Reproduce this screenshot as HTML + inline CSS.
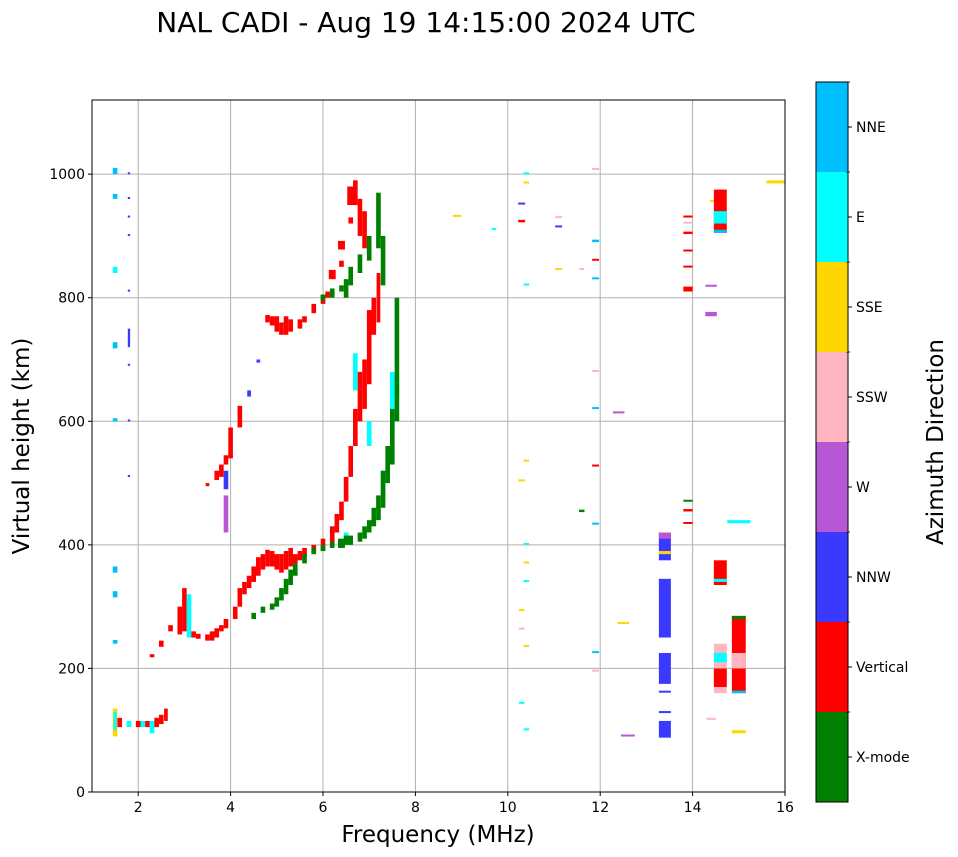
<!DOCTYPE html>
<html><head><meta charset="utf-8">
<style>
html,body{margin:0;padding:0;background:#fff;}
svg{display:block;font-family:"DejaVu Sans","Liberation Sans",sans-serif;}
</style></head>
<body>
<svg id="chart" width="958" height="857" xmlns="http://www.w3.org/2000/svg">
<text x="426" y="32" text-anchor="middle" font-size="28">NAL CADI - Aug 19 14:15:00 2024 UTC</text>
<g id="grid"></g>
<g id="marks"></g>
<rect x="92" y="100" width="693" height="692" fill="none" stroke="#000" stroke-width="1"/>
<g id="axes"></g>
<text x="438" y="842" text-anchor="middle" font-size="23">Frequency (MHz)</text>
<text transform="translate(29,446) rotate(-90)" text-anchor="middle" font-size="23">Virtual height (km)</text>
<g id="cbar"></g>
<text transform="translate(943,442) rotate(-90)" text-anchor="middle" font-size="23">Azimuth Direction</text>
</svg>
<script>
const xTicks = [2,4,6,8,10,12,14,16];
const yTicks = [0,200,400,600,800,1000];
const dirLabels = ["X-mode","Vertical","NNW","W","SSW","SSE","E","NNE"];
const dirColors = ["#008000","#ff0000","#3a3aff","#b857d6","#ffb6c1","#ffd700","#00ffff","#00bfff"];
// [freq MHz, hLow km, hHigh km, colorIdx, widthMHz]
const runs = [
[1.5,90,135,5,0.1],[1.5,100,130,6,0.07],[1.6,105,120,1,0.1],[1.8,105,115,6,0.1],[2.0,105,115,1,0.1],[2.1,105,115,6,0.1],[2.2,105,115,1,0.1],[2.3,95,115,6,0.1],[2.4,105,120,1,0.1],[2.5,110,125,1,0.1],[2.6,115,135,1,0.08],
[1.5,1000,1010,7,0.1],[1.5,960,968,7,0.1],[1.5,840,850,6,0.1],[1.5,718,728,7,0.1],[1.5,600,605,7,0.1],[1.5,355,365,7,0.1],[1.5,315,325,7,0.1],[1.5,240,246,7,0.1],
[1.8,1000,1003,2,0.05],[1.8,960,963,2,0.05],[1.8,930,933,2,0.05],[1.8,900,903,2,0.05],[1.8,810,813,2,0.05],[1.8,720,750,2,0.05],[1.8,690,693,2,0.05],[1.8,600,603,2,0.05],[1.8,510,513,2,0.05],
[2.3,218,223,1,0.1],[2.5,235,245,1,0.1],[2.7,260,270,1,0.1],[2.9,255,300,1,0.1],[3.0,260,330,1,0.1],[3.1,250,320,6,0.1],[3.2,250,260,1,0.1],[3.3,248,256,1,0.1],[3.5,245,255,1,0.1],[3.6,245,260,1,0.1],[3.7,250,265,1,0.1],[3.8,260,270,1,0.1],[3.9,265,280,1,0.1],
[4.1,280,300,1,0.1],[4.2,300,330,1,0.1],[4.3,320,340,1,0.1],[4.4,330,350,1,0.1],[4.5,340,365,1,0.1],[4.6,350,380,1,0.1],[4.7,360,385,1,0.1],[4.8,365,392,1,0.1],[4.9,365,390,1,0.1],[5.0,360,385,1,0.1],[5.1,355,385,1,0.1],[5.2,360,390,1,0.1],[5.3,365,395,1,0.1],[5.4,370,385,1,0.1],[5.5,375,390,1,0.1],[5.6,380,395,1,0.1],[5.8,385,400,1,0.1],[6.0,390,410,1,0.1],
[6.2,400,430,1,0.1],[6.3,420,450,1,0.1],[6.4,440,470,1,0.1],[6.5,470,510,1,0.1],[6.6,510,560,1,0.1],[6.7,560,620,1,0.1],[6.8,600,680,1,0.1],[6.9,620,700,1,0.1],[7.0,660,780,1,0.1],[7.1,740,800,1,0.1],[7.2,760,840,1,0.08],
[6.7,650,710,6,0.1],[6.5,400,420,6,0.1],[7.0,560,600,6,0.1],[7.5,580,680,6,0.1],[7.6,640,670,6,0.1],[7.3,480,520,6,0.1],
[3.5,495,500,1,0.08],[3.7,505,520,1,0.1],[3.8,510,530,1,0.1],[3.9,530,545,1,0.1],[4.0,540,590,1,0.1],[4.2,590,625,1,0.1],[4.4,640,650,2,0.08],[4.6,695,700,2,0.08],
[4.8,760,772,1,0.1],[4.9,755,770,1,0.1],[5.0,745,770,1,0.1],[5.1,740,760,1,0.1],[5.2,740,770,1,0.1],[5.3,745,765,1,0.1],[5.5,750,765,1,0.1],[5.6,760,770,1,0.1],[5.8,775,790,1,0.1],[6.0,790,805,1,0.1],[6.1,800,810,1,0.1],[6.2,830,845,1,0.15],[6.4,850,860,1,0.1],[6.4,878,892,1,0.15],[6.6,920,930,1,0.1],[6.6,950,980,1,0.15],[6.7,950,990,1,0.1],[6.8,900,960,1,0.1],[6.9,880,940,1,0.1],
[3.9,490,520,2,0.1],[3.9,420,480,3,0.1],
[4.5,280,290,0,0.1],[4.7,290,300,0,0.1],[4.9,295,305,0,0.1],[5.0,300,315,0,0.1],[5.1,310,330,0,0.1],[5.2,320,345,0,0.1],[5.3,335,360,0,0.1],[5.4,350,370,0,0.1],[5.6,370,385,0,0.1],[5.8,385,395,0,0.1],[6.0,390,400,0,0.1],[6.2,395,405,0,0.1],[6.4,395,410,0,0.15],[6.5,400,415,0,0.1],[6.6,400,415,0,0.1],[6.8,405,420,0,0.1],[6.9,410,430,0,0.1],[7.0,420,440,0,0.1],[7.1,430,460,0,0.1],[7.2,440,480,0,0.1],[7.3,460,520,0,0.1],[7.4,500,560,0,0.1],[7.5,530,620,0,0.1],[7.6,600,800,0,0.1],[7.3,820,900,0,0.1],[7.2,880,970,0,0.1],[7.0,870,900,0,0.1],
[6.0,795,805,0,0.1],[6.2,800,815,0,0.1],[6.4,810,820,0,0.1],[6.5,800,830,0,0.1],[6.6,820,850,0,0.1],[6.8,840,870,0,0.1],[7.0,860,890,0,0.1],
[10.3,922,926,1,0.15],[10.3,952,954,2,0.15],[10.4,1000,1003,6,0.12],[10.4,985,988,5,0.12],[10.4,820,823,6,0.12],[10.4,535,538,5,0.12],[10.3,503,506,5,0.15],[10.4,400,403,6,0.12],[10.4,370,373,5,0.12],[10.4,340,343,6,0.12],[10.3,293,296,5,0.12],[10.3,263,266,4,0.12],[10.4,235,238,5,0.12],[10.3,143,146,6,0.12],[10.4,100,103,6,0.12],
[11.1,845,848,5,0.15],[11.6,845,848,4,0.1],[11.1,930,932,4,0.15],[11.1,915,917,2,0.15],[8.9,932,934,5,0.18],[9.7,910,913,6,0.1],
[11.9,1007,1010,4,0.15],[11.9,890,894,7,0.15],[11.9,860,863,1,0.15],[11.9,830,833,7,0.15],[11.9,680,683,4,0.15],[11.9,620,623,7,0.15],[11.9,527,530,1,0.15],[11.9,433,436,7,0.15],[11.9,225,228,7,0.15],[11.9,195,198,4,0.15],
[12.4,613,616,3,0.25],[12.5,272,275,5,0.25],[12.6,90,93,3,0.3],[11.6,453,457,0,0.12],
[13.4,88,115,2,0.26],[13.4,128,131,2,0.26],[13.4,162,164,2,0.26],[13.4,175,225,2,0.26],[13.4,250,345,2,0.26],[13.4,375,420,2,0.26],[13.4,385,390,5,0.26],[13.4,410,420,3,0.26],
[13.9,930,933,1,0.2],[13.9,920,923,4,0.2],[13.9,903,907,1,0.2],[13.9,875,878,1,0.2],[13.9,810,818,1,0.2],[13.9,850,852,1,0.2],[13.9,470,473,0,0.2],[13.9,454,458,1,0.2],[13.9,435,437,1,0.2],
[14.4,770,777,3,0.25],[14.4,818,821,3,0.25],[14.5,955,958,5,0.25],[14.4,118,120,4,0.2],
[14.6,905,975,1,0.28],[14.6,920,940,6,0.28],[14.6,905,910,7,0.28],[14.6,335,375,1,0.28],[14.6,340,345,6,0.28],[14.6,160,240,4,0.28],[14.6,170,200,1,0.28],[14.6,210,225,6,0.28],
[15.0,160,285,1,0.3],[15.0,200,225,4,0.3],[15.0,435,440,6,0.5],[15.0,95,100,5,0.3],[15.0,280,285,0,0.3],[15.0,160,164,7,0.3],[15.8,985,990,5,0.4]
];
const NS="http://www.w3.org/2000/svg";
const X0=92,X1=785,Y0=792,Y1=100;
const xs=f=>X0+(f-1)/15*(X1-X0);
const ys=h=>Y0-h/1120*(Y0-Y1);
function mk(tag,attrs,parent){const e=document.createElementNS(NS,tag);for(const k in attrs)e.setAttribute(k,attrs[k]);parent.appendChild(e);return e;}
const grid=document.getElementById('grid'),axes=document.getElementById('axes'),marks=document.getElementById('marks'),cbar=document.getElementById('cbar');
xTicks.forEach(t=>{
 const x=xs(t);
 const g=mk('line',{x1:x,x2:x,y1:Y1,y2:Y0,stroke:'#b0b0b0','stroke-width':1},grid);
 
 
 const tk=mk('line',{x1:x,x2:x,y1:Y0,y2:Y0+4,stroke:'#000'},axes);
 
 
 const tl=mk('text',{x:x,y:Y0+20,'text-anchor':'middle','font-size':14},axes);
 tl.textContent=t;
 
 
});
yTicks.forEach(t=>{
 const y=ys(t);
 const g=mk('line',{x1:X0,x2:X1,y1:y,y2:y,stroke:'#b0b0b0','stroke-width':1},grid);
 
 
 const tk=mk('line',{x1:X0-4,x2:X0,y1:y,y2:y,stroke:'#000'},axes);
 
 
 const tl=mk('text',{x:X0-7,y:y+5,'text-anchor':'end','font-size':14},axes);
 tl.textContent=t;
 
 
});
runs.forEach(r=>{
 const [f,h0,h1,c,w]=r;
 const x=xs(f-w/2), x2=xs(f+w/2);
 const yt=ys(h1), yb=ys(h0);
 const e=mk('rect',{x:x,y:yt,width:Math.max(1,x2-x),height:Math.max(2,yb-yt),fill:dirColors[c]},marks);
 
 
});
const CX=816,CW=32,CT=82,CB=802,seg=(CB-CT)/dirLabels.length;
dirLabels.forEach((lab,i)=>{
 const y=CB-(i+1)*seg;
 const r=mk('rect',{x:CX,y:y,width:CW,height:seg,fill:dirColors[i]},cbar);
 
 
 const tk=mk('line',{x1:CX+CW,x2:CX+CW+4,y1:y+seg/2,y2:y+seg/2,stroke:'#000'},cbar);
 
 
 const t=mk('text',{x:CX+CW+8,y:y+seg/2+5,'font-size':14},cbar);
 t.textContent=lab;
 
 
 const bt=mk('line',{x1:CX+CW-2,x2:CX+CW+2,y1:y,y2:y,stroke:'#000','stroke-width':0.8},cbar);
 
 
});
const fr=mk('rect',{x:CX,y:CT,width:CW,height:CB-CT,fill:'none',stroke:'#000','stroke-width':1},cbar);


</script>
</body></html>
